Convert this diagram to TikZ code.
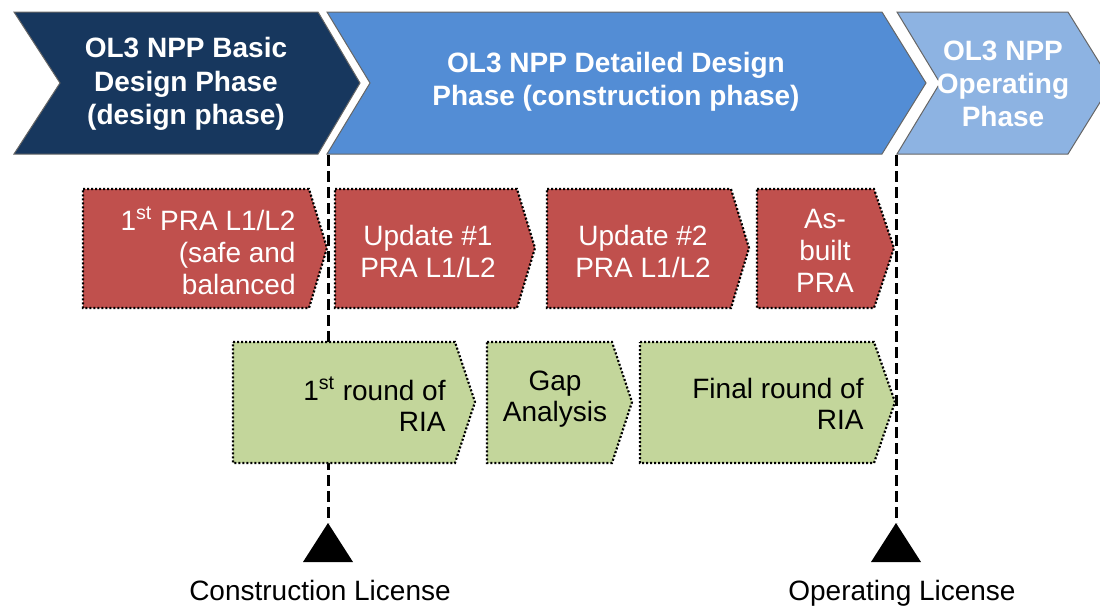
\documentclass[tikz,border=0pt]{standalone}
\usepackage{fontspec}
\setmainfont{Liberation Sans}
\definecolor{navy}{HTML}{17375E}
\definecolor{midblue}{HTML}{538DD5}
\definecolor{lightblue}{HTML}{8DB3E2}
\definecolor{prared}{HTML}{C0504D}
\definecolor{riagreen}{HTML}{C3D69B}
\begin{document}
\begin{tikzpicture}[x=0.5pt,y=-0.5pt,
  phase/.style={draw=black!60, line width=0.5pt},
  task/.style={draw=black, line width=1.1pt, dash pattern=on 1pt off 1pt},
  licline/.style={line width=1.5pt, dash pattern=on 5.5pt off 2.5pt},
  phasetext/.style={text=white, font=\fontsize{14}{16.6}\selectfont\bfseries, align=center},
  pratext/.style={text=white, font=\fontsize{14}{16}\selectfont},
  riatext/.style={text=black, font=\fontsize{14}{15.5}\selectfont},
  lictext/.style={font=\fontsize{14}{16}\selectfont, anchor=base}]
\useasboundingbox (0,0) rectangle (1100,606);
\clip (0,0) rectangle (1100,606);
% milestones
\coordinate (cltop) at (328,155);
\coordinate (cltip) at (328,523);
\coordinate (oltop) at (896,155);
\coordinate (oltip) at (896,523);
\draw[licline] (cltop) -- (cltip);
\draw[licline] (oltop) -- (oltip);
\fill (cltip) -- ++(25,39) -- ++(-50,0) -- cycle;
\fill (oltip) -- ++(25,39) -- ++(-50,0) -- cycle;
\node[lictext] (cl) at (320,600) {Construction License};
\node[lictext] (ol) at (902,600) {Operating License};
% phases
\draw[phase, fill=navy] (14,12) -- (318,12) -- (360,83) -- (318,154) -- (14,154) -- (60,83) -- cycle;
\draw[phase, fill=midblue] (327,12) -- (882,12) -- (926,83) -- (882,154) -- (327,154) -- (370,83) -- cycle;
\draw[phase, fill=lightblue] (897,12) -- (1068,12) -- (1112,83) -- (1068,154) -- (897,154) -- (940,83) -- cycle;
\node[phasetext] (basic) at (186,84) {OL3 NPP Basic\\Design Phase\\(design phase)};
\node[phasetext] (detailed) at (616,82) {OL3 NPP Detailed Design\\Phase (construction phase)};
\node[phasetext] (operating) at (1003,84) {OL3 NPP\\Operating\\Phase};
% PRA
\draw[task, fill=prared] (83,189) -- (309,189) -- (327,248) -- (309,308) -- (83,308) -- cycle;
\draw[task, fill=prared] (335,189) -- (517,189) -- (535,248) -- (517,308) -- (335,308) -- cycle;
\draw[task, fill=prared] (547,189) -- (731,189) -- (749,248) -- (731,308) -- (547,308) -- cycle;
\draw[task, fill=prared] (757,189) -- (874,189) -- (894,248) -- (874,308) -- (757,308) -- cycle;
\node[pratext, anchor=east, align=right, inner sep=0pt] (pra1) at (296,251) {1\textsuperscript{st} PRA L1/L2\\(safe and\\balanced};
\node[pratext, align=center] (pra2) at (428,251) {Update \#1\\PRA L1/L2};
\node[pratext, align=center] (pra3) at (643,251) {Update \#2\\PRA L1/L2};
\node[pratext, align=center] (pra4) at (825,251) {As-\\built\\PRA};
% RIA
\draw[task, fill=riagreen] (233,342) -- (455,342) -- (475,402) -- (455,463) -- (233,463) -- cycle;
\draw[task, fill=riagreen] (487,342) -- (612,342) -- (632,402) -- (612,463) -- (487,463) -- cycle;
\draw[task, fill=riagreen] (640,342) -- (874,342) -- (895,402) -- (874,463) -- (640,463) -- cycle;
\node[riatext, anchor=east, align=right, inner sep=0pt] (ria1) at (446,404) {1\textsuperscript{st} round of\\RIA};
\node[riatext, align=center] (gap) at (555,399) {Gap\\Analysis};
\node[riatext, anchor=east, align=right, inner sep=0pt] (ria2) at (864,404) {Final round of\\RIA};
\end{tikzpicture}
\end{document}
